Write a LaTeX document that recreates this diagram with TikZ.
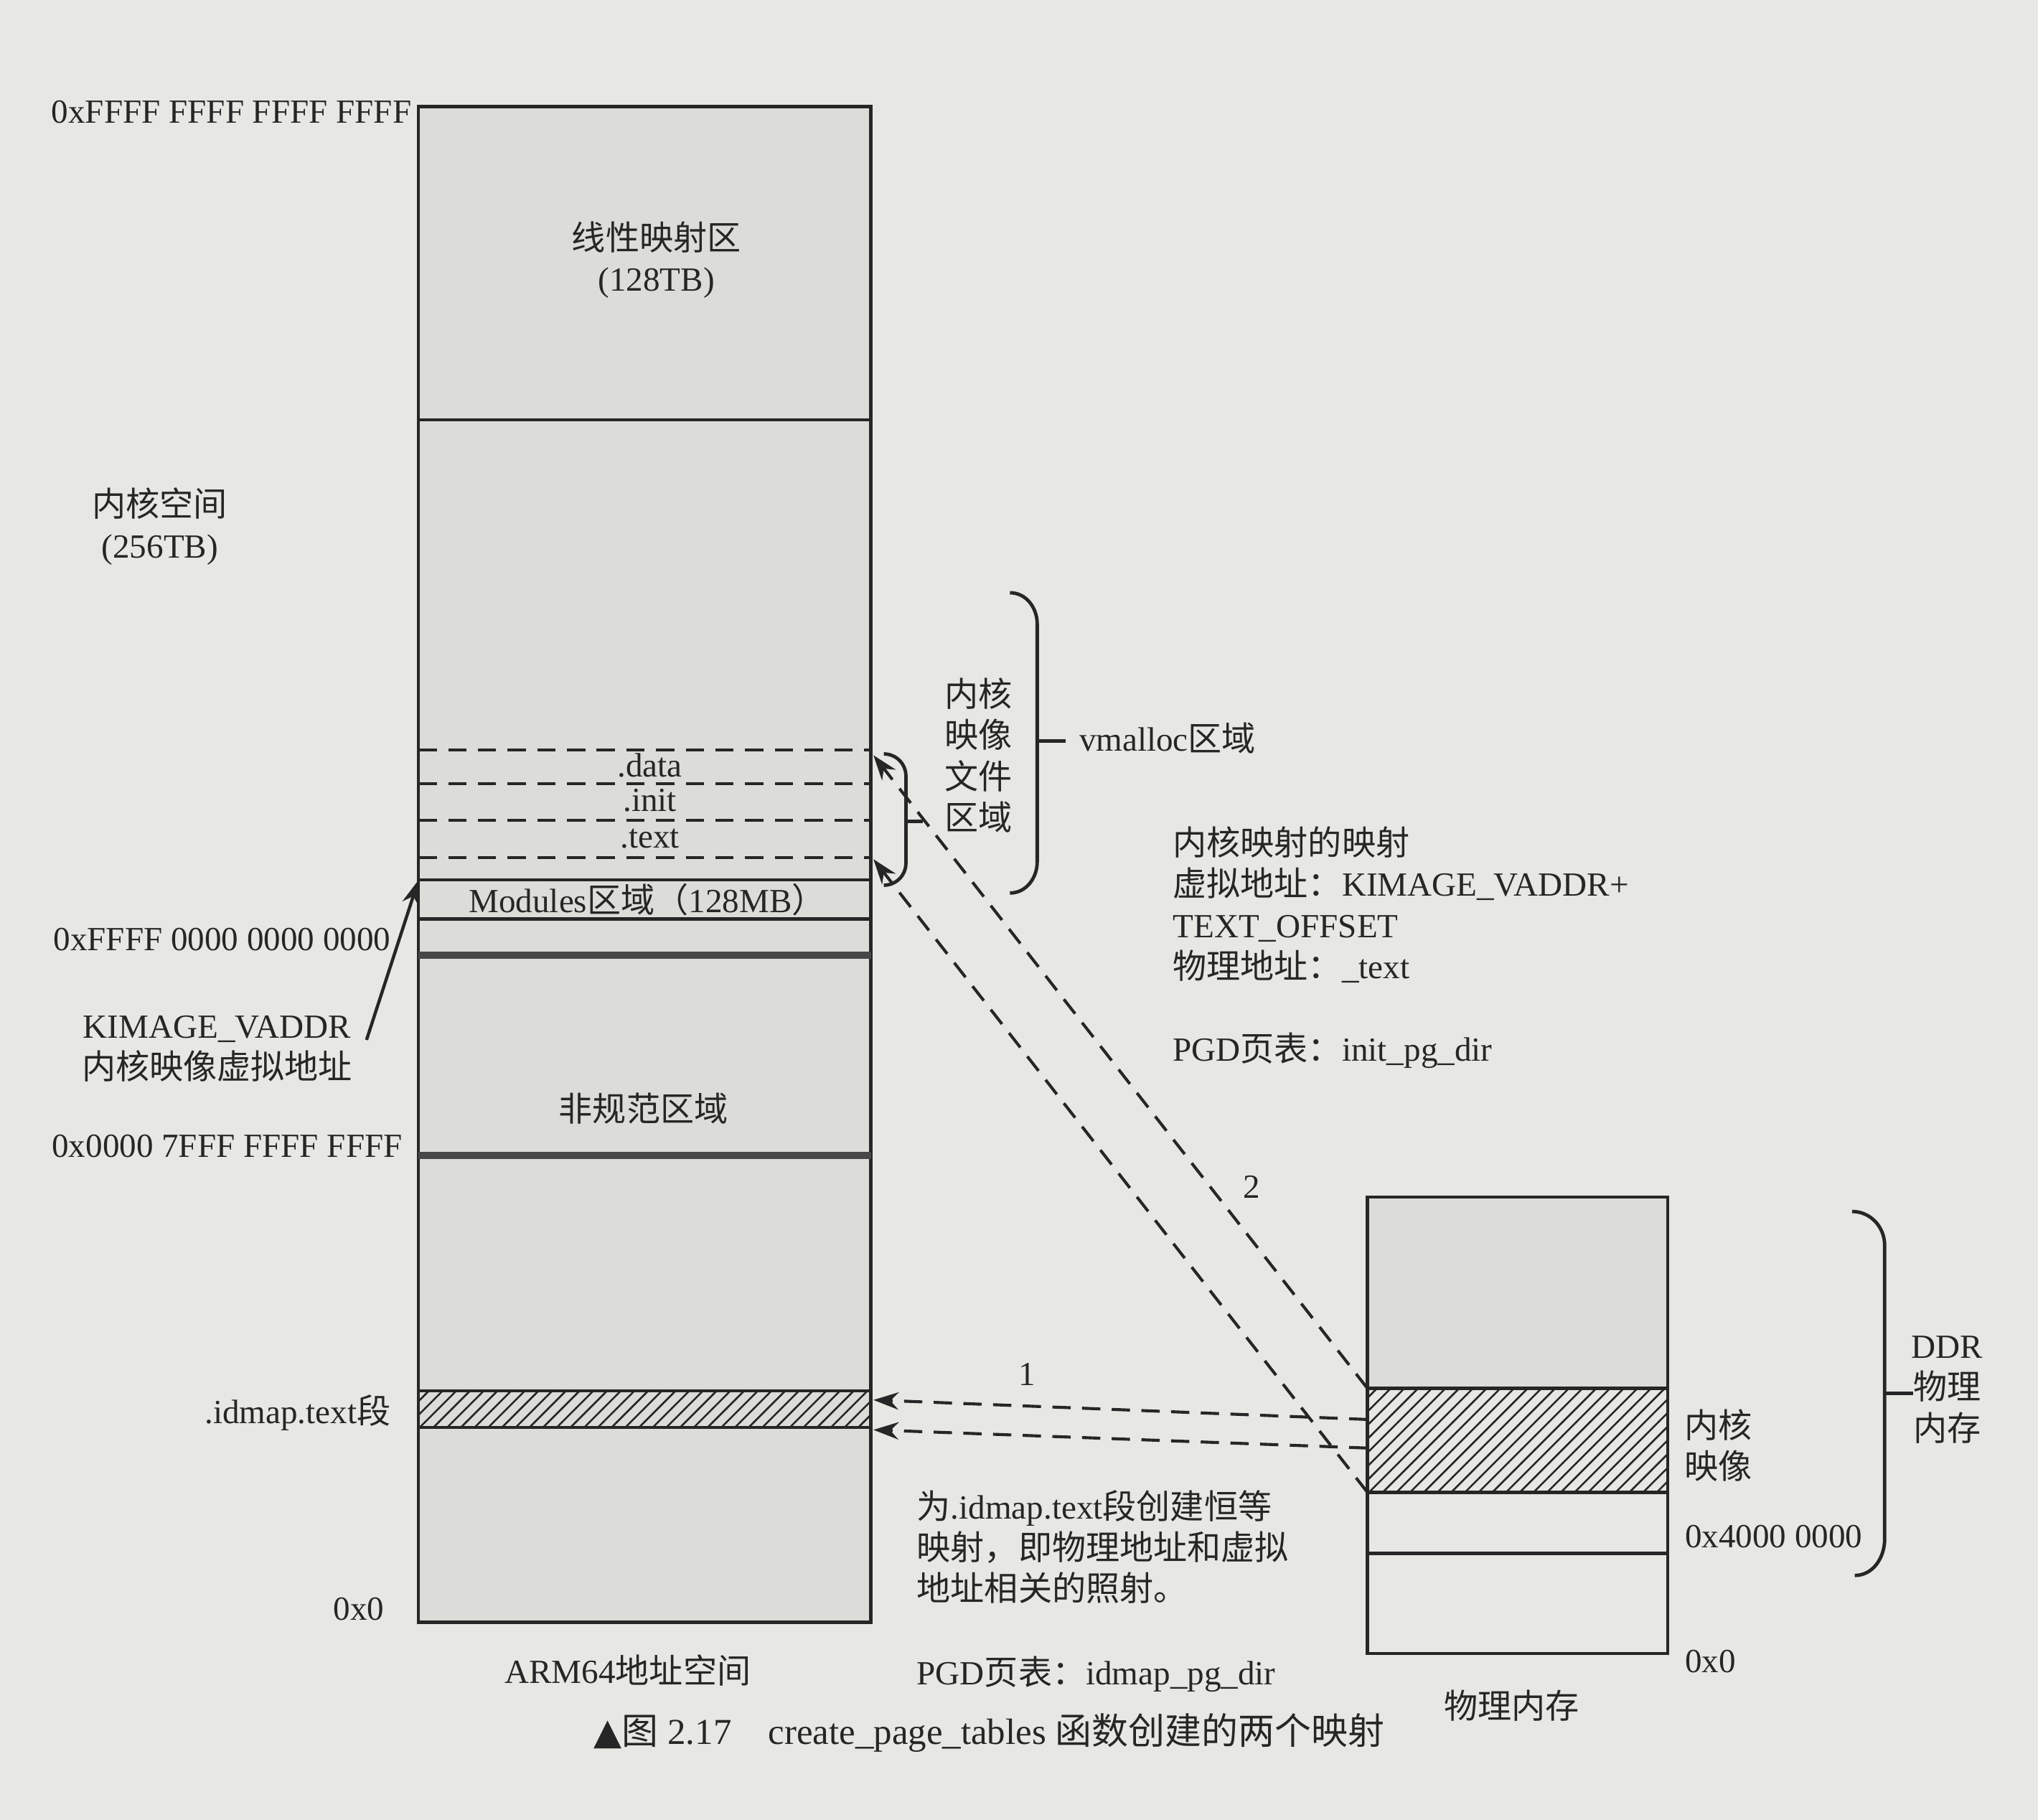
\documentclass[tikz,border=0pt]{standalone}
\usepackage{fontspec}
\setmainfont{Liberation Serif}
\newfontfamily\cjk{Noto Sans CJK SC}
\newfontfamily\simboli{DejaVu Sans}
\newcommand{\zh}[1]{{\cjk #1}}
\usetikzlibrary{arrows.meta,patterns}
\definecolor{carta}{RGB}{231,231,227}
\definecolor{grigio}{RGB}{220,220,216}
\definecolor{inchiostro}{RGB}{38,38,38}

\begin{document}
\begin{tikzpicture}[
    font=\fontsize{7.4}{9}\selectfont,
    every node/.style={text=inchiostro},
    linea/.style={draw=inchiostro, line width=0.7pt},
    spessa/.style={draw=inchiostro!85, line width=1.6pt},
    tratteggio/.style={draw=inchiostro, line width=0.65pt, dash pattern=on 4pt off 2.5pt},
    freccia/.style={tratteggio, -{Stealth[length=5.5pt,width=3.8pt]}},
    righe/.style={pattern=north east lines, pattern color=inchiostro},
    parentesi/.style={draw=inchiostro, line width=0.75pt}
]

% Sfondo (pagina)
\fill[carta] (0,0) rectangle (15.68,-14.00);
\useasboundingbox (0,0) rectangle (15.68,-14.00);

% Spazio di indirizzi ARM64
\fill[grigio] (3.22,-0.82) rectangle (6.70,-12.48);
\draw[linea] (3.22,-0.82) rectangle (6.70,-12.48); % contorno
\draw[linea] (3.22,-3.23) -- (6.70,-3.23); % fine mappatura lineare
\foreach \y in {-5.77,-6.03,-6.31,-6.60}
    \draw[tratteggio] (3.22,\y) -- (6.70,\y); % sezioni immagine
\draw[linea] (3.22,-6.77) -- (6.70,-6.77); % modules sopra
\draw[linea] (3.22,-7.07) -- (6.70,-7.07); % modules sotto
\draw[spessa] (3.22,-7.35) -- (6.70,-7.35); % inizio spazio kernel
\draw[spessa] (3.22,-8.89) -- (6.70,-8.89); % fine spazio utente
\draw[linea, righe] (3.22,-10.70) rectangle (6.70,-10.98); % .idmap.text

\node (linmap) [align=center] at (5.05,-2.00) {\zh{线性映射区}\\(128TB)};
\node (data) at (5.00,-5.89) {.data};
\node (init) at (5.00,-6.16) {.init};
\node (text) at (5.00,-6.45) {.text};
\node (modules) at (4.98,-6.92) {Modules\zh{区域（}128MB\zh{）}};
\node (noncanon) at (4.95,-8.53) {\zh{非规范区域}};
\node (arm64) at (4.83,-12.85) {ARM64\zh{地址空间}};

% Etichette a sinistra
\node (addrtop) [anchor=east] at (3.29,-0.86) {0xFFFF FFFF FFFF FFFF};
\node (kspace) [align=center] at (1.23,-4.05) {\zh{内核空间}\\(256TB)};
\node (addrk) [anchor=east] at (3.13,-7.23) {0xFFFF 0000 0000 0000};
\node (kimage) [align=center] at (1.67,-8.07) {KIMAGE\_VADDR\\\zh{内核映像虚拟地址}};
\node (addru) [anchor=east] at (3.22,-8.82) {0x0000 7FFF FFFF FFFF};
\node (idmaplab) [anchor=east] at (3.13,-10.87) {.idmap.text\zh{段}};
\node (addr0) [anchor=east] at (3.08,-12.38) {0x0};

\coordinate (kimgfrom) at (2.82,-8.00);
\coordinate (kimgto) at (3.22,-6.77);
\draw[linea, -{Stealth[length=5.5pt,width=3.8pt]}] (kimgfrom) -- (kimgto);

% Parentesi: immagine del kernel e vmalloc
\draw[parentesi] (6.80,-5.80) to[out=0,in=90] (6.97,-5.97) -- (6.97,-6.64) to[out=-90,in=0] (6.80,-6.81);
\draw[parentesi] (6.97,-6.32) -- (7.10,-6.32);
\node (kimgfile) [align=center] at (7.53,-5.81) {\zh{内核}\\\zh{映像}\\\zh{文件}\\\zh{区域}};

\draw[parentesi] (7.77,-4.56) to[out=0,in=90] (7.98,-4.80) -- (7.98,-6.63) to[out=-90,in=0] (7.77,-6.87);
\draw[parentesi] (7.98,-5.70) -- (8.20,-5.70);
\node (vmalloc) [anchor=west] at (8.18,-5.68) {vmalloc\zh{区域}};

% Testi di descrizione
\node (kmapinfo) [anchor=west, align=left] at (8.90,-6.96)
    {\zh{内核映射的映射}\\\zh{虚拟地址：}KIMAGE\_VADDR+\\TEXT\_OFFSET\\\zh{物理地址：}\_text};
\node (initpgd) [anchor=west] at (8.90,-8.08) {PGD\zh{页表：}init\_pg\_dir};
\node (idinfo) [anchor=west, align=left] at (6.93,-11.90)
    {\zh{为}.idmap.text\zh{段创建恒等}\\\zh{映射，即物理地址和虚拟}\\\zh{地址相关的照射。}};
\node (idpgd) [anchor=west] at (6.93,-12.88) {PGD\zh{页表：}idmap\_pg\_dir};

% Memoria fisica
\fill[grigio] (10.52,-9.21) rectangle (12.83,-10.68);
\draw[linea] (10.52,-9.21) rectangle (12.83,-12.72); % contorno
\draw[linea, righe] (10.52,-10.68) rectangle (12.83,-11.48); % immagine kernel
\draw[linea] (10.52,-11.95) -- (12.83,-11.95);

\node (kimgphys) [align=center] at (13.22,-11.12) {\zh{内核}\\\zh{映像}};
\node (ddrbase) [anchor=west] at (12.84,-11.82) {0x4000 0000};
\node (phys0) [anchor=west] at (12.84,-12.78) {0x0};
\node (physmem) at (11.63,-13.12) {\zh{物理内存}};

\draw[parentesi] (14.25,-9.32) to[out=0,in=90] (14.50,-9.58) -- (14.50,-11.84) to[out=-90,in=0] (14.27,-12.12);
\draw[parentesi] (14.50,-10.72) -- (14.72,-10.72);
\node (ddr) [align=center] at (14.98,-10.69) {DDR\\\zh{物理}\\\zh{内存}};

% Mappature
\coordinate (ktop) at (6.72,-5.81);
\coordinate (kbot) at (6.72,-6.61);
\coordinate (ptop) at (10.52,-10.68);
\coordinate (pbot) at (10.52,-11.48);
\draw[freccia] (ptop) -- (ktop); % mappatura 2
\draw[freccia] (pbot) -- (kbot);
\node (lab2) at (9.63,-9.13) {2};

\coordinate (idtop) at (6.72,-10.77);
\coordinate (idbot) at (6.72,-11.00);
\coordinate (pidtop) at (10.52,-10.92);
\coordinate (pidbot) at (10.52,-11.14);
\draw[freccia] (pidtop) -- (idtop); % mappatura 1
\draw[freccia] (pidbot) -- (idbot);
\node (lab1) at (7.90,-10.57) {1};

% Didascalia
\node (caption) at (7.61,-13.33) {\fontsize{8}{10}\selectfont{\simboli ▲}\zh{图} 2.17\quad create\_page\_tables \zh{函数创建的两个映射}};

\end{tikzpicture}
\end{document}
